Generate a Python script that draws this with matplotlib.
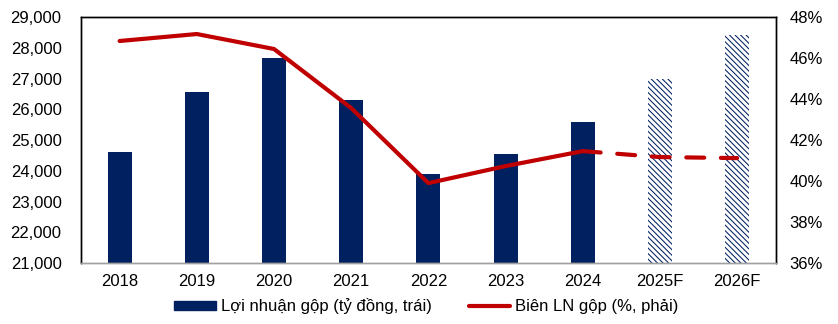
import matplotlib
matplotlib.use("Agg")
import matplotlib.pyplot as plt
from matplotlib.patches import Patch
from matplotlib.lines import Line2D

plt.rcParams['font.family'] = ['Liberation Sans', 'DejaVu Sans']
plt.rcParams['hatch.linewidth'] = 0.75

years = ["2018", "2019", "2020", "2021", "2022", "2023", "2024", "2025F", "2026F"]
gross_profit = [24610, 26560, 27670, 26300, 23890, 24550, 25590, 26980, 28410]
gross_margin = [46.83, 47.17, 46.44, 43.56, 39.90, 40.73, 41.46, 41.17, 41.12]
n_actual = 7

navy = "#002060"
red = "#C00000"
fs = 12

fig = plt.figure(figsize=(8.38, 3.24), dpi=100)
ax = fig.add_axes([0.0967, 0.188, 0.829, 0.7595])
ax2 = ax.twinx()

x = list(range(len(years)))
ax.bar(x[:n_actual], gross_profit[:n_actual], width=0.31, color=navy, zorder=2)
ax.bar(x[n_actual:], gross_profit[n_actual:], width=0.31, color="white",
       edgecolor=navy, hatch="\\" * 6, linewidth=0, zorder=2)

ax.set_ylim(21000, 29000)
ax.set_yticks(range(21000, 29001, 1000))
ax.set_yticklabels([f"{v:,}" for v in range(21000, 29001, 1000)])
ax.set_xlim(-0.5, len(years) - 0.5)
ax.set_xticks(x)
ax.set_xticklabels(years)

ax2.plot(x[:n_actual], gross_margin[:n_actual], color=red, lw=3, solid_capstyle='round',
         solid_joinstyle='round', zorder=3)
ax2.plot(x[n_actual - 1:], gross_margin[n_actual - 1:], color=red, lw=3,
         dashes=(4.3, 4.0), dash_capstyle='round', zorder=3)
ax2.set_ylim(36, 48)
ax2.set_yticks(range(36, 49, 2))
ax2.set_yticklabels([f"{v}%" for v in range(36, 49, 2)])

for a in (ax, ax2):
    a.tick_params(length=0, labelsize=fs, colors="black")
    for s in a.spines.values():
        s.set_color("black")
        s.set_linewidth(1.0)
    a.spines['bottom'].set_color("#A0A0A0")
ax.tick_params(axis='y', pad=14)
ax2.tick_params(axis='y', pad=10)
ax.tick_params(axis='x', pad=8)

handles = [Patch(facecolor=navy, edgecolor=navy),
           Line2D([0], [0], color=red, lw=3, solid_capstyle='round')]
labels = ["Lợi nhuận gộp (tỷ đồng, trái)", "Biên LN gộp (%, phải)"]
fig.legend(handles, labels, loc="center", bbox_to_anchor=(0.509, 0.055), ncol=2,
           frameon=False, fontsize=fs, handlelength=2.5, handleheight=0.45,
           handletextpad=0.3, columnspacing=2.2, borderpad=0)

fig.savefig("out.png", dpi=100)
